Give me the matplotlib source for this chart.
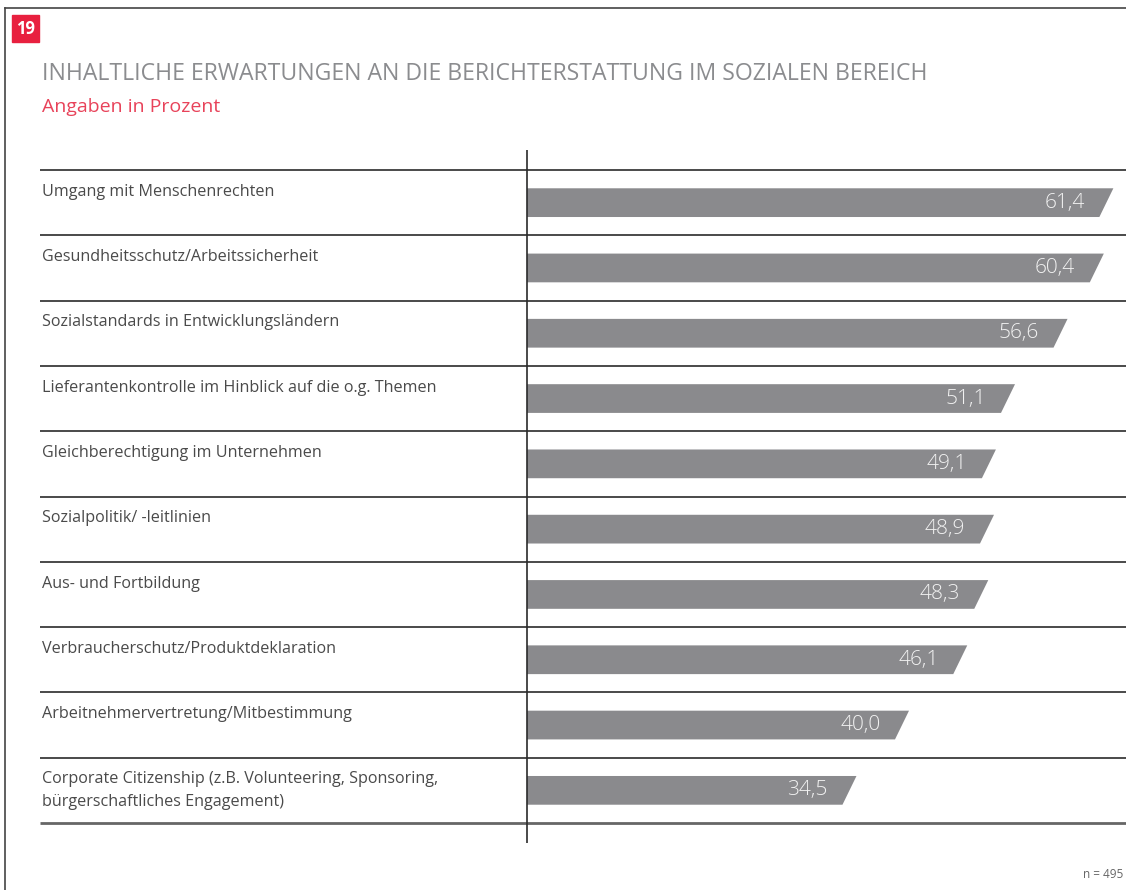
import matplotlib.pyplot as plt
from matplotlib.patches import Polygon, Rectangle
from matplotlib.lines import Line2D

# data
categories = [
    "Umgang mit Menschenrechten",
    "Gesundheitsschutz/Arbeitssicherheit",
    "Sozialstandards in Entwicklungsländern",
    "Lieferantenkontrolle im Hinblick auf die o.g. Themen",
    "Gleichberechtigung im Unternehmen",
    "Sozialpolitik/ -leitlinien",
    "Aus- und Fortbildung",
    "Verbraucherschutz/Produktdeklaration",
    "Arbeitnehmervertretung/Mitbestimmung",
    "Corporate Citizenship (z.B. Volunteering, Sponsoring,\nbürgerschaftliches Engagement)",
]
values = [61.4, 60.4, 56.6, 51.1, 49.1, 48.9, 48.3, 46.1, 40.0, 34.5]
value_labels = ["61,4", "60,4", "56,6", "51,1", "49,1", "48,9", "48,3", "46,1", "40,0", "34,5"]

plt.rcParams['font.family'] = ['Open Sans', 'DejaVu Sans']

W, H = 1126, 890
fig = plt.figure(figsize=(W / 100, H / 100), dpi=100)
fig.patch.set_facecolor('white')

def fx(px):
    return px / W

def fy(py):
    return 1 - py / H

# frame lines (top and left)
fig.add_artist(Line2D([fx(5), 1], [fy(8), fy(8)], color='#444444', lw=1.2))
fig.add_artist(Line2D([fx(5), fx(5)], [fy(8), 0], color='#444444', lw=1.2))

# badge
fig.add_artist(Rectangle((fx(12), fy(42)), fx(39) - fx(12), fy(15) - fy(42),
                         color='#e8203f', transform=fig.transFigure))
fig.text(fx(25.5), fy(29), "19", color='white', fontsize=12, fontweight='bold',
         ha='center', va='center')

fig.text(fx(42), fy(74), "INHALTLICHE ERWARTUNGEN AN DIE BERICHTERSTATTUNG IM SOZIALEN BEREICH",
         color='#8b8c8f', fontsize=16.6, fontweight='medium', ha='left', va='center')
fig.text(fx(42), fy(107), "Angaben in Prozent", color='#e8435a', fontsize=14,
         ha='left', va='center')

fig.text(fx(1123), fy(875), "n = 495", color='#666666', fontsize=8.5, ha='right', va='center')

# main axes: x = 0 sits at pixel 527, 9.55 px per percent
scale = 9.55
ax_top, ax_bot = 150, 843
ax = fig.add_axes([0, fy(ax_bot), 1, fy(ax_top) - fy(ax_bot)])
ax.set_xlim(-527 / scale, (W - 527) / scale)
row_h = 65.3
ax.set_ylim(10 + (ax_bot - 823) / row_h, -(170 - ax_top) / row_h)
ax.axis('off')

x_left = (40 - 527) / scale
x_text = (42 - 527) / scale
xmax = (W - 527) / scale

# row separators
for i in range(len(categories) + 1):
    if i == len(categories):
        ax.plot([x_left, xmax], [i, i], color='#666666', lw=2, solid_capstyle='butt')
    else:
        ax.plot([x_left, xmax], [i, i], color='#2b2b2b', lw=1.2, solid_capstyle='butt')

# vertical axis line
ax.plot([0, 0], ax.get_ylim(), color='#2b2b2b', lw=1.2)

slant = 14 / scale
bar_h = 0.44
for i, (cat, v, lab) in enumerate(zip(categories, values, value_labels)):
    top = i + 0.5 - bar_h / 2
    bot = i + 0.5 + bar_h / 2
    ax.add_patch(Polygon([(0, top), (v, top), (v - slant, bot), (0, bot)],
                         closed=True, facecolor='#8a8a8d', edgecolor='none'))
    ax.text(v - 3.0, i + 0.5, lab, color='#f2f2f2', fontsize=15, fontweight='light',
            ha='right', va='center')
    ax.text(x_text, i + 0.21, cat, color='#4a4a4a', fontsize=11.6, ha='left', va='top',
            linespacing=1.55)

plt.savefig("out.png", dpi=100, facecolor='white')
